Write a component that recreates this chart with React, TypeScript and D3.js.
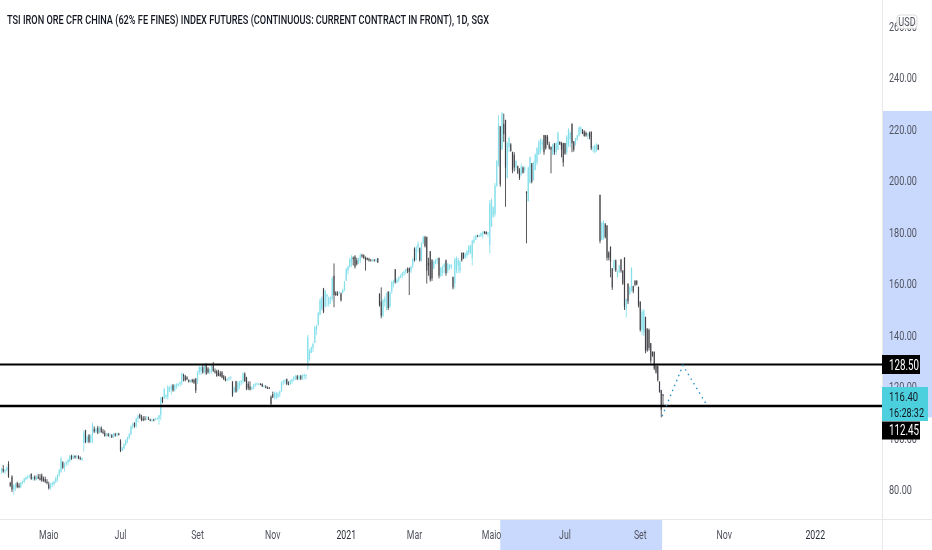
import * as d3 from "d3";

type Bar = [number, number, number, number]; // open, high, low, close

const title =
  "TSI IRON ORE CFR CHINA (62% FE FINES) INDEX FUTURES (CONTINUOUS: CURRENT CONTRACT IN FRONT), 1D, SGX";

const spring2020: Bar[] = [
  [87,88.5,86,88],[88,89.5,86.5,87],[87,88,86,87.5],[87.5,89,87,88.5],[90,91,84.5,85],[82.5,83,81,81.5],[85,85.5,79,80],
  [80,82,78,81.5],[81,82.5,79.5,82],[82.5,83,80.5,81],[81.5,82.5,80.5,81],[81,83,80.5,82.7],[82.5,83.5,82,83.2],[83,84.5,82.5,84.2],
  [84,85,83.5,84.8],[84.7,85.5,84,85.2],[85.2,85.8,84.5,85.5],[86,86.3,83.8,84],[84.2,85,83.5,84.8],[85,85.5,83.5,84],[84,85.5,83.5,85],
  [85,86,84,84.3],[84.5,86,83.5,83.8],[85.5,86.2,83,83.5],[84,85,83,83.3],[84,85,82.5,83],[83,84,82,82.5],[82,83,80,80.5],
  [80.5,82.5,80,82],[82,83,81,82.5],[82,83.5,81.5,83],[83,85,82.5,84.5],[84,86,83,85.5],[85.5,88,85,87.5],[87,92.8,86.5,92],
];

const summer2020: Bar[] = [
  [90.5,91,88,88.5],[88.5,90.5,87,90],[90,91,89,90.5],[90.5,92,89.5,91.5],[91,93.5,90.5,93],[93,93.5,91.5,92],[92,93.5,91.8,93],
  [93,93.3,92,92.5],[92.5,93.5,92,92.8],[93,93.3,91.8,92],[92,92.8,91.5,91.7],[91.5,92.5,91,92.2],[98,103,94.7,102],[103,103.2,98,98.5],
  [98.5,101,98,100.5],[101,101.5,98,98.5],[98.5,101.5,98,101],[101,106,98,105],[103.5,104.5,102,102.5],[102.5,104,102,103.5],
  [104,104.7,101.5,102],[102,104.5,101.8,104],[104,104.5,102,102.3],[102.5,103.5,101.5,102],[102,103,100.5,100.8],[101,102,100.5,101.5],
  [101.5,102,100.5,100.8],[101,102,100,101.2],[101,101.5,100,100.3],[100.5,102,100,101.8],[101.5,102,100.5,101],[101,102,100.5,101.7],
  [101.7,102,101,101.2],[99,99.5,94.5,95],
];

const autumn2020: Bar[] = [
  [95,96.5,95,96.3],[96,98,95.5,97.5],[97.5,99.5,97,99],[99,100.5,98,100],[100,102,99.5,101.5],[101.5,105,101,104.5],[104.5,106,103.5,105.5],
  [106,106,104,104.5],[104.5,108,104,107.5],[107.5,109,106,108.7],[109,109.5,107.5,108],[108,109,106.5,107],[107.5,108.5,106.5,107],
  [107.5,108.5,106.8,107.2],[107.5,108.6,107,107.6],[107.5,108.3,107,107.2],[107,107.5,106.5,106.7],[106.8,107.5,106.3,107.2],
  [107,107.5,106.5,106.8],[107,107.8,106.8,107.5],[107.5,108,107,107.8],[107.5,109,105.2,108.8],[108.8,116,107,115.5],[115.8,116,113.5,114],
  [115.5,119.5,115.2,119],[116,117,115,116.5],[116,120.5,115,120],[118,120,118,119.5],[119,120.8,116.8,120.3],[120.5,121,118,118.5],
  [118.5,121,118,120.5],[120,121.2,119,120.8],[120.5,121.3,120,121],[121,122,120,121.5],[121.5,125.5,120.5,125],[124.5,125,122,124],
  [124,124.5,122,122.5],[123.5,124,122.5,122.8],[122.5,122.8,121.5,121.8],[121.8,122.7,121.5,122.5],[122.5,123,121.5,121.8],
  [122.5,123,121,121.5],[123,123.3,117.5,118.5],
];

const range2020: Bar[] = [
  [122,126,121,125.5],[125.5,128,124.5,127.5],[126,128,124.5,127.5],[127.5,128.5,125,125.5],[125.5,129,125,128.5],[128.5,129,124.5,125],
  [127,127.5,125,125.5],[125.5,127,124.8,126.5],[126.5,128.5,125,128],[128,129.5,125.7,126],[126,127,125,125.5],[126,126.5,123.8,124],
  [125.5,126.5,124,124.3],[125,126,123.8,124],[125.5,126,123.2,123.5],[124,124.5,122.5,122.8],[123,124,122,122.3],[122.5,123.2,122,123],
  [123,123.8,122.2,123.5],[123.5,124,122.5,123.7],[122,122,116,116.5],[118,120,117.5,119.5],[122,122.2,117.6,118],[118.5,122,118,121.5],
  [120,122.2,119,121.8],[121.5,122.5,120.5,122.3],[122.3,125.5,121,125],[125,125.5,121.8,122],[123.5,123.8,118.6,119],[121,122,118.6,119.5],
  [120,122,118.5,118.8],[118.8,120,118.8,119.5],[119,121,119,120.5],[120.5,121.5,119.8,121],[120.8,121.5,120.5,121.2],[121,121.3,120.5,121.1],
  [121,121.3,120.5,120.6],[121,121.2,119.8,120],[120,120.5,119.5,120.3],[120,120.5,119.3,119.5],[119.5,120,119,119.3],[119.5,119.8,119,119.2],
  [116,116.5,112.8,113.2],[117,118,115.5,115.8],[116,118,115,117.6],[115.5,118,115,117.5],[116,117.8,115.5,117.2],[117.2,118.5,116,118],
  [118,122,118,121.5],[121.5,122.5,120.5,122],[122,122.8,121,122.5],[123,123,120.5,121],[121,122,120.5,120.8],[121,122.5,120.5,122.2],
  [122,123,121,122.7],[122.7,124,122,123.7],[123.5,124.5,122.5,124],[124,124.5,122.5,123],[123,124.5,122.5,124],[124,124.5,122.5,123],
  [123,124.7,122.5,124.5],[124,125,122.8,124.5],[124,124.7,122.7,124.5],
];

const rally2020: Bar[] = [
  [128,140,126.5,139],[130.5,134.5,130,134],[133,135.5,133,135.2],[135,137,133.5,136.5],[137,143.5,136.8,143],[142,144,140,143.5],
  [144,149,143.5,148.5],[148,154.3,147.5,153.5],[150,155,149.5,154.5],[158,158.3,148.5,149],[151,157.5,150.8,157],[155,156,151,155.5],
  [152,155,151,154.5],[154,155,152,154.5],[154,162.7,153,162],[163,167.8,150.8,155.5],[156.5,157,155.2,155.5],[156,157,155.2,155.5],
  [156,157,156,156.5],[156,156.5,153,153.5],[156.5,158,156,157.5],[157.5,161,157,160.5],[161,166,161,165.5],[165,167,163.5,166.5],
  [166.5,170,166,169.5],[168,171,166.5,170.5],[170,170.5,167,169.5],[170.5,171,165.8,166.5],[169,170,167,167.5],[168,170,167.5,169.5],
  [169,171.7,168,171],[171,171.5,170,170.5],[171,171.3,169.5,170],[170,170.5,165,169],[170,170,169,169.3],[169.5,170,168.5,169],
  [169,169.5,168.5,168.8],[169,169.5,168.5,169.2],[169,169.5,168.5,168.8],[168.8,169.5,168.3,169.2],[169.8,169.9,168,168.2],
];

const winter2021: Bar[] = [
  [156,156.2,151,151.5],[153,158.5,146.5,147.5],[147.5,154,147,153.5],[153,155,151,154],[150,156.5,149.5,156],[156.8,157,149.7,150.5],
  [151,157,150.5,156.5],[157,161,156,160.5],[160,161.5,158.5,161],[165.5,165.6,160,160.5],[160.5,162,160,161.5],[161.5,162.8,160.5,162.5],
  [162.5,163.5,162,163],[163,164.5,162,164],[164,165,163,164.5],[164.5,165.8,163.5,165.5],[165.5,166.2,164,165],[166,166.2,155.5,164.5],
  [165,167,164,166.5],[167,170,166,169.5],[173.5,174,168.5,169],[169,174.5,169,174],[174,176.3,172,175.5],[173.7,174,168.5,169],
  [169,176,168.5,175.5],[175.5,178.5,175.5,178],[178,178.5,174,174.5],[178,178.2,160,165],[168,170,163,167],[172.5,172.6,160.7,161.5],
  [169,169.5,161,162],[166,169,165.5,168.5],[168,169.5,167.5,169],[169,170,167.5,169.5],[170,170,162,163],[163,166.5,162.5,166],
  [164,167,163,166.5],[166.5,168,164,167.5],[169,169.3,163,164],[165,168,164,167.5],[166,167.5,165.2,167],[166.5,167.5,165.5,167.3],
  [162.5,162.7,157.7,158.5],[160,170,158,169.5],[165,170.5,164,170],[167,170,164,169],[165,169,164,168.5],[172,172,168.5,169],
  [172,172,169.5,170],[170,172,169.5,171.5],[171,173,170,172.5],[172,175,171,174.5],[172,175,171.5,174.5],[170,177,167,176.5],
  [176,178.5,175.5,177],[177,178.9,177,178.5],[178.5,178.9,178,178.3],[178.2,179,178,178.7],[178.5,179.8,178,179.5],[179,180.5,177.5,180],
  [180.2,180.3,179.2,179.5],[180,180.3,179,179.2],[179.2,180,178,179.8],
];

const peak2021: Bar[] = [
  [175,192.4,171.7,191],[182,193,182,192.5],[186,190,185.5,189.5],[187,199,186,198],[198,208,197.5,207.5],[206,225.4,205.4,222],
  [221,221.2,197.6,198.5],[212,226.7,211.8,226],[222,226,215,218],[223.5,223.6,189.8,205],[201,215,200.8,214.5],[213,217,211,216.5],
  [214,214.5,211.2,211.5],[211,211.2,202.8,204],[210,211,203.5,205],[205,208,204,207.5],[205.5,205.8,202.5,203],[204,204.8,200.2,201],
  [202,206.5,202,205.5],[205,205.5,202.7,203],[204,205.5,203,205],[195.7,195.8,175.6,195],[192,205.4,191.8,205],[199,209.3,198.9,209],
  [206.7,206.8,198.9,199.5],[200,207.3,200.2,207],[204,210.5,204,210],[207,213,206,212.5],[210,215.7,210,215],[211,216.4,210.5,216],
  [214,216,212,215],[217.6,217.7,210,211],[217.5,217.7,212,212.5],[217,217.7,213.8,214.5],[214,215,212,212.5],[213,213.2,202.8,212],
  [210,214.4,210,214],[214.4,214.5,210,211],[211,215,210,214.5],[212,219,211.8,218.5],[215,215.2,213.8,214],[214.5,215,209,212],
  [214.5,214.6,205.4,207],[214.5,214.6,210,210.5],[211,217.6,210,217],[214,220.3,213,220],[216,219,213,218.5],[222,222.2,211,214.5],
  [215.2,215.3,211.2,212],[214,216.5,213.5,216.3],[215.7,217.8,215.5,217.5],[217.5,221,217,220.5],[219.5,221,218,220.8],
  [219.8,219.9,218,218.2],[219,219.5,217,217.3],[218.5,219,217,217.5],[217.5,218.5,216,218],[218.5,219,216,217],[219,219,211.8,212.5],
  [212.5,213.5,211,212.8],[211,214,210.5,213.5],[212,214.5,211.2,214],[213.8,214,211.8,212],
];

const selloff2021: Bar[] = [
  [194.4,194.5,175.6,176.5],[177,184,176.9,183.5],[178,184.5,177,184],[183,183.5,177.5,178],[182.5,182.7,168.9,170],[172,172.5,169,170],
  [174.3,174.4,162.4,168.5],[165.9,166,157.5,158.5],[166,169.3,165,169],[169,169.3,164.5,165],[162.5,165,162.3,164.8],[164.5,167.2,164,167],
  [169.3,169.5,164.2,165],[165,165.2,159.5,160],[170,170.2,149.7,151],[150,154.2,146.8,154],[160,160,152,153],[156,159,155.5,158.5],
  [157,166.3,156.8,166],[159,159.1,156.2,157],[161,161.3,159,159.5],[161,161.3,159.3,159.6],[158.7,158.8,150.7,151.5],[153,153,141.3,142],
  [142,150,140,149],[141,150,139.6,149.5],[147,147.1,132.9,134],[142.5,142.6,133.5,134],[142,142.5,134,135],[136.8,136.9,129,130],
  [133.5,133.6,131.5,132],[133.5,133.6,126.4,127],[128,128.5,125,125.5],[128,128.1,121.9,122.5],[121.9,122,117.6,118],[118.6,118.7,108,111],
  [117,117,112,116.4],
];

const bars: Bar[] = [
  ...spring2020, ...summer2020, ...autumn2020, ...range2020,
  ...rally2020, ...winter2021, ...peak2021, ...selloff2021,
];

const priceTicks = [80, 100, 120, 140, 160, 180, 200, 220, 240, 260];
const monthLabels = ["Maio", "Jul", "Set", "Nov", "2021", "Mar", "Maio", "Jul", "Set", "Nov", "2022"];
const monthBars = [27, 68, 112, 155, 197, 236, 280, 322, 365, 413, 465];

const levels = [128.5, 112.45];
const forecastBars = [377.5, 389.4, 403];
const forecastPrices = [108.5, 128.2, 112.8];
const lastPrice = 116.4;
const countdown = "16:28:32";

// the screenshot's labels are much narrower than any installed face
const squeeze = 0.7;

function Narrow(props: {
  x: number;
  y: number;
  size: number;
  fill: string;
  anchor?: "start" | "middle";
  children: string;
}) {
  return (
    <text
      transform={`translate(${props.x},${props.y}) scale(${squeeze},1)`}
      dy="0.35em"
      fontSize={props.size}
      fill={props.fill}
      textAnchor={props.anchor ?? "start"}
    >
      {props.children}
    </text>
  );
}

export default function App() {
  const width = 932;
  const height = 550;
  const axisX = 882;
  const axisY = 520;

  const x = d3.scaleLinear().domain([0, 378]).range([1.5, 663]);
  const y = d3.scaleLinear().domain([80, 220]).range([489.5, 129]);

  const forecast = d3
    .line<number>()
    .x((d) => x(d))
    .y((_, i) => y(forecastPrices[i]));

  return (
    <svg
      width={width}
      height={height}
      style={{ position: "absolute", left: 0, top: 0, background: "#fff" }}
      fontFamily="Roboto, sans-serif"
    >
      <defs>
        <filter id="soft" x="-5%" y="-5%" width="110%" height="110%">
          <feGaussianBlur stdDeviation="0.3" />
        </filter>
      </defs>

      {/* candles */}
      <g filter="url(#soft)">
        {bars.map((d, i) => {
          const [open, high, low, close] = d;
          const up = close >= open;
          const color = up ? "#80deea" : "#2f3136";
          const top = y(Math.max(open, close));
          const bottom = y(Math.min(open, close));
          return (
            <g key={i}>
              <line x1={x(i)} x2={x(i)} y1={y(high)} y2={y(low)} stroke={color} strokeWidth={0.8} />
              <rect
                x={x(i) - 0.65}
                y={top}
                width={1.3}
                height={Math.max(bottom - top, 0.6)}
                fill={color}
                opacity={up ? 0.85 : 0.65}
              />
            </g>
          );
        })}
      </g>

      {/* support and resistance */}
      {levels.map((v, i) => (
        <line key={v} x1={0} x2={axisX} y1={y(v)} y2={y(v)} stroke="#000" strokeWidth={i === 0 ? 2 : 2.5} />
      ))}

      {/* projected path */}
      <path
        d={forecast(forecastBars) ?? ""}
        fill="none"
        stroke="#2b93c9"
        strokeWidth={1.4}
        strokeDasharray="1.4 4"
      />

      <text
        x={7}
        y={24}
        fontSize={13.5}
        fontWeight={500}
        fill="#131722"
        textLength={482}
        lengthAdjust="spacingAndGlyphs"
      >
        {title}
      </text>

      {/* price axis */}
      <rect x={axisX} y={y(227)} width={width - axisX} height={y(108) - y(227)} fill="#c9d9fd" />
      <line x1={axisX + 0.5} x2={axisX + 0.5} y1={0} y2={height} stroke="#e8e8e8" />
      {priceTicks.map((v) => (
        <Narrow key={v} x={889} y={y(v)} size={13} fill="#50535e">
          {v.toFixed(2)}
        </Narrow>
      ))}

      <rect x={897} y={15} width={20} height={13.5} rx={3} fill="#fff" fillOpacity={0.85} stroke="#dddddd" />
      <Narrow x={907} y={21.5} size={13} fill="#50535e" anchor="middle">
        USD
      </Narrow>

      <rect x={axisX} y={355} width={38} height={19} fill="#000" />
      <Narrow x={889} y={y(levels[0])} size={14} fill="#fff">
        {levels[0].toFixed(2)}
      </Narrow>

      <rect x={axisX} y={387} width={46} height={34} fill="#4dd0de" />
      <Narrow x={889} y={396.5} size={13.5} fill="#131722">
        {lastPrice.toFixed(2)}
      </Narrow>
      <Narrow x={889} y={412} size={13} fill="#131722">
        {countdown}
      </Narrow>

      <rect x={axisX} y={421.5} width={38} height={18} fill="#000" />
      <Narrow x={889} y={430.5} size={14} fill="#fff">
        {levels[1].toFixed(2)}
      </Narrow>

      {/* time axis */}
      <rect x={x(285)} y={axisY} width={x(377.5) - x(285)} height={height - axisY} fill="#c9d9fd" />
      <line x1={0} x2={width} y1={axisY - 0.5} y2={axisY - 0.5} stroke="#e8e8e8" />
      {monthLabels.map((label, i) => (
        <Narrow
          key={i}
          x={x(monthBars[i])}
          y={534.5}
          size={12.5}
          anchor="middle"
          fill={/^\d/.test(label) ? "#2a2e39" : "#50535e"}
        >
          {label}
        </Narrow>
      ))}
    </svg>
  );
}
